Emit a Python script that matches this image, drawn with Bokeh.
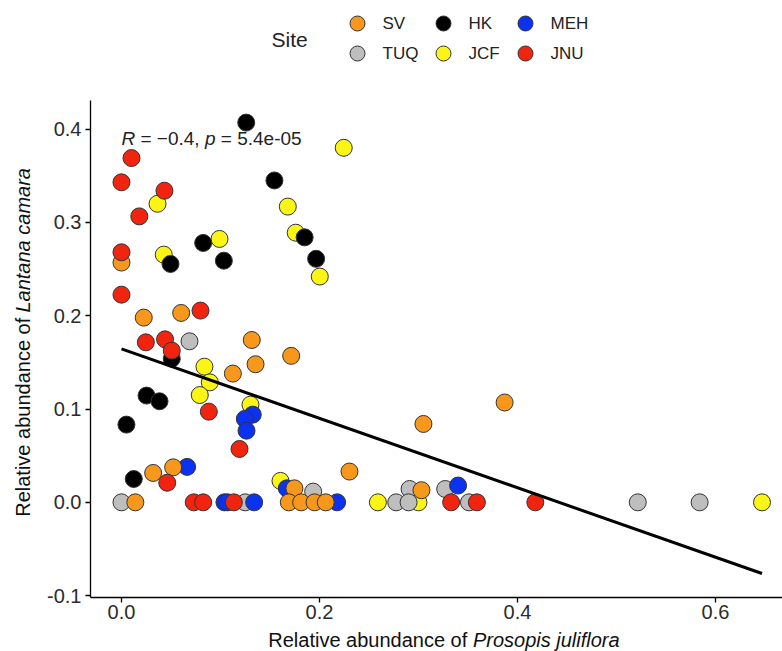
import numpy as np
from bokeh.plotting import figure
from bokeh.models import Range1d, FixedTicker, PrintfTickFormatter, Label, ColumnDataSource
from bokeh.layouts import column, row
from bokeh.embed import file_html
from bokeh.resources import INLINE
from bokeh.core.properties import value

# ---------------- data ----------------
sv_x = [0.0, 0.0225, 0.0603, 0.1316, 0.1714, 0.1354, 0.1125, 0.0522, 0.032, 0.1747,
        0.2303, 0.387, 0.305, 0.303, 0.014, 0.169, 0.1815, 0.195, 0.2063]
sv_y = [0.257, 0.198, 0.203, 0.174, 0.157, 0.148, 0.138, 0.0375, 0.0315, 0.015,
        0.033, 0.107, 0.084, 0.013, 0.0, 0.0, 0.0, 0.0, 0.0]

hk_x = [0.126, 0.1545, 0.185, 0.0825, 0.0495, 0.1034, 0.1966, 0.0508, 0.0253, 0.0384, 0.005, 0.0124]
hk_y = [0.407, 0.345, 0.284, 0.278, 0.2555, 0.259, 0.261, 0.154, 0.1144, 0.1083, 0.0833, 0.025]

meh_x = [0.1326, 0.1246, 0.1263, 0.0663, 0.167, 0.340, 0.104, 0.107, 0.134, 0.2178]
meh_y = [0.094, 0.0894, 0.0768, 0.038, 0.015, 0.018, 0.0, 0.0, 0.0, 0.0]

tuq_x = [0.0687, 0.1936, 0.291, 0.327, 0.0, 0.125, 0.2775, 0.290, 0.351, 0.5215, 0.584]
tuq_y = [0.1726, 0.0115, 0.0143, 0.0143, 0.0, 0.0, 0.0, 0.0, 0.0, 0.0, 0.0]

jcf_x = [0.2245, 0.0364, 0.168, 0.176, 0.099, 0.0427, 0.2003, 0.0838, 0.0892, 0.0791,
         0.1303, 0.1606, 0.259, 0.300, 0.647]
jcf_y = [0.380, 0.320, 0.317, 0.289, 0.2823, 0.2655, 0.242, 0.1454, 0.1286, 0.115,
         0.1047, 0.023, 0.0, 0.0, 0.0]

jnu_x = [0.0101, 0.0, 0.0434, 0.018, 0.0, 0.0, 0.0798, 0.0246, 0.044, 0.0508,
         0.0882, 0.1192, 0.0462, 0.073, 0.0825, 0.1135, 0.333, 0.359, 0.418]
jnu_y = [0.369, 0.343, 0.334, 0.3065, 0.268, 0.2226, 0.2055, 0.1715, 0.1747, 0.1626,
         0.0972, 0.0572, 0.021, 0.0, 0.0, 0.0, 0.0, 0.0, 0.0]

site_data = {
    "SV": (sv_x, sv_y), "TUQ": (tuq_x, tuq_y), "HK": (hk_x, hk_y),
    "JCF": (jcf_x, jcf_y), "MEH": (meh_x, meh_y), "JNU": (jnu_x, jnu_y),
}
legend_order = ["SV", "TUQ", "HK", "JCF", "MEH", "JNU"]   # column-major, 2 rows
draw_order = ["JCF", "HK", "TUQ", "MEH", "SV", "JNU"]
site_colors = {"SV": "#F7981D", "TUQ": "#BEBEBE", "HK": "#000000",
               "JCF": "#FAF514", "MEH": "#0A32F0", "JNU": "#F0240F"}

# fitted regression line as shown (R = -0.4)
fit_intercept = 0.1644
fit_slope = -0.372

x_ticks = [0.0, 0.2, 0.4, 0.6]
y_ticks = [-0.1, 0.0, 0.1, 0.2, 0.3, 0.4]
stat_text = ["R", "= \u22120.4,", "p", "= 5.4e-05"]
x_title = ["Relative abundance of", "Prosopis juliflora"]
y_title = ["Relative abundance of", "Lantana camara"]

FONT = "Liberation Sans"
TITLE_SIZE = "20px"
W = 782
X0, X1 = -0.0313, 0.6677
Y0, Y1 = -0.102, 0.4307

LH = 88          # legend strip height
MH = 539         # main plot height
XH = 651 - LH - MH   # x title strip height
YW = 44          # y title strip width


def bare(fig):
    fig.axis.visible = False
    fig.grid.visible = False
    fig.outline_line_color = None
    return fig


# ---------------- legend strip (frame aligned with main frame: page px 90..782) ----------------
leg = bare(figure(width=W, height=LH, output_backend="svg", toolbar_location=None,
                  x_range=Range1d(90, W), y_range=Range1d(LH, 0),
                  min_border_left=90, min_border_right=0, min_border_top=0, min_border_bottom=0))
key_col_x = [357, 443, 525]
key_row_y = [23, 53]
lx = [key_col_x[i // 2] for i in range(len(legend_order))]
ly = [key_row_y[i % 2] for i in range(len(legend_order))]
lsrc = ColumnDataSource(dict(x=lx, y=ly, c=[site_colors[s] for s in legend_order],
                             tx=[v + 25 for v in lx], t=legend_order))
leg.scatter("x", "y", source=lsrc, size=15, fill_color="c", line_color="#333333", line_width=1)
leg.text("tx", "y", text="t", source=lsrc, text_font=value(FONT),
         text_font_size=value("17px"), text_baseline="middle", text_align="left",
         text_color="#222222")
leg.text(x=[271], y=[39], text=["Site"], text_font=value(FONT), text_font_size=value("21px"),
         text_baseline="middle", text_align="left", text_color="#222222")

# ---------------- y title strip (page px) ----------------
ytit = bare(figure(width=YW, height=MH, output_backend="svg", toolbar_location=None,
                   x_range=Range1d(0, YW), y_range=Range1d(LH + MH, LH),
                   min_border_left=0, min_border_right=0, min_border_top=0, min_border_bottom=0))
ysplit = 318.0
ytit.text(x=[22], y=[ysplit + 5.6], text=[y_title[0]], angle=np.pi / 2, text_align="right",
          text_baseline="middle", text_font=value(FONT), text_font_size=value(TITLE_SIZE),
          text_color="#111111")
ytit.text(x=[22], y=[ysplit], text=[y_title[1]], angle=np.pi / 2, text_align="left",
          text_baseline="middle", text_font=value(FONT), text_font_style="italic",
          text_font_size=value(TITLE_SIZE), text_color="#111111")

# ---------------- main plot ----------------
p = figure(width=W - YW, height=MH, output_backend="svg", toolbar_location=None,
           x_range=Range1d(X0, X1), y_range=Range1d(Y0, Y1),
           min_border_left=90 - YW, min_border_right=0, min_border_top=12,
           min_border_bottom=MH - 12 - 497)
p.grid.visible = False
p.outline_line_color = None
p.background_fill_color = "white"

for s in draw_order:
    xs, ys = site_data[s]
    p.scatter(xs, ys, size=17, fill_color=site_colors[s], line_color="#333333", line_width=1)

all_x = np.concatenate([site_data[s][0] for s in legend_order])
fx = np.array([all_x.min(), all_x.max()])
p.line(fx, fit_intercept + fit_slope * fx, line_color="black", line_width=3)

for ax, ticks in ((p.xaxis, x_ticks), (p.yaxis, y_ticks)):
    ax.ticker = FixedTicker(ticks=ticks)
    ax.formatter = PrintfTickFormatter(format="%.1f")
    ax.axis_line_color = "black"
    ax.axis_line_width = 1.3
    ax.major_tick_line_color = "black"
    ax.major_tick_line_width = 1.3
    ax.major_tick_out = 5
    ax.major_tick_in = 0
    ax.minor_tick_out = 0
    ax.minor_tick_in = 0
    ax.major_label_text_font = FONT
    ax.major_label_text_font_size = "20px"
    ax.major_label_text_color = "#2b2b2b"
p.xaxis.major_label_standoff = 2
p.yaxis.major_label_standoff = 4

# correlation annotation
offs = [0, 19.0, 83.4, 99.3]
styles = ["italic", "normal", "italic", "normal"]
for t, o, st in zip(stat_text, offs, styles):
    p.add_layout(Label(x=0.0, y=0.3898, x_offset=o, text=t, text_align="left",
                       text_baseline="middle", text_font=FONT, text_font_style=st,
                       text_font_size="19px", text_color="#222222"))

# ---------------- x title strip (page px) ----------------
xtit = bare(figure(width=W, height=XH, output_backend="svg", toolbar_location=None,
                   x_range=Range1d(90, W), y_range=Range1d(651, LH + MH),
                   min_border_left=90, min_border_right=0, min_border_top=0, min_border_bottom=0))
xsplit = 472.4
xtit.text(x=[xsplit - 5.6], y=[639], text=[x_title[0]], text_align="right",
          text_baseline="middle", text_font=value(FONT), text_font_size=value(TITLE_SIZE),
          text_color="#111111")
xtit.text(x=[xsplit], y=[639], text=[x_title[1]], text_align="left",
          text_baseline="middle", text_font=value(FONT), text_font_style="italic",
          text_font_size=value(TITLE_SIZE), text_color="#111111")

layout = column(leg, row(ytit, p, spacing=0), xtit, spacing=0)
open("out.html", "w").write(file_html(layout, INLINE))
